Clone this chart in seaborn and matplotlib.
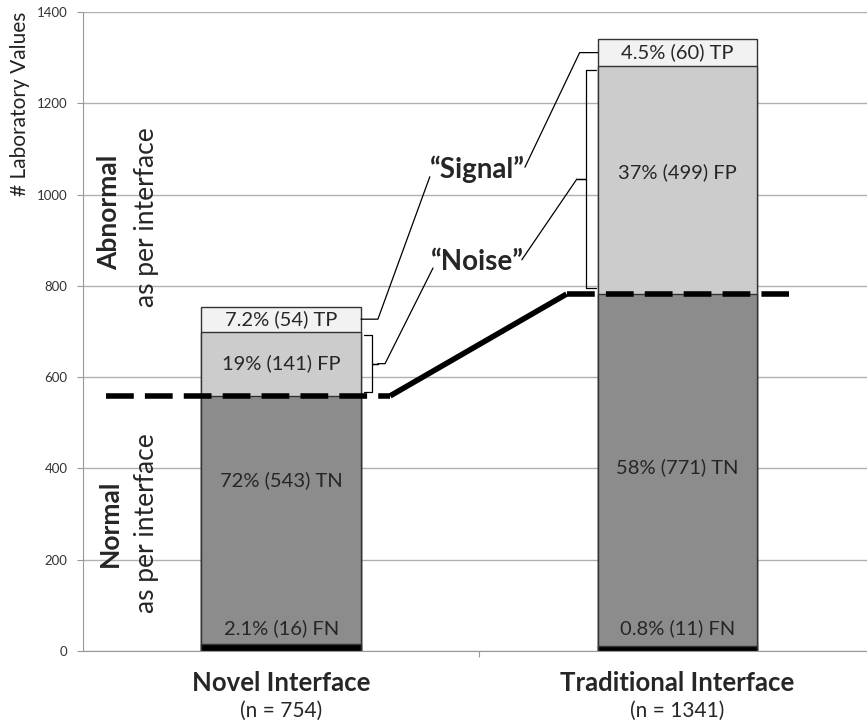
import numpy as np
import pandas as pd
import matplotlib
matplotlib.use('Agg')
import matplotlib.pyplot as plt
import seaborn as sns

# data
interfaces = ['Novel Interface', 'Traditional Interface']
n_totals = [754, 1341]
fn = [16, 11]
tn = [543, 771]
fp = [141, 499]
tp = [54, 60]
fn_lbl = ['2.1% (16) FN', '0.8% (11) FN']
tn_lbl = ['72% (543) TN', '58% (771) TN']
fp_lbl = ['19% (141) FP', '37% (499) FP']
tp_lbl = ['7.2% (54) TP', '4.5% (60) TP']

sns.set_style('white')
plt.rcParams['font.family'] = ['Lato', 'DejaVu Sans']

c_fn = np.array(fn)
c_tn = c_fn + np.array(tn)
c_fp = c_tn + np.array(fp)
c_tp = c_fp + np.array(tp)

fig = plt.figure(figsize=(8.67, 7.24), dpi=100)
ax = fig.add_axes([83 / 867, 1 - 651 / 724, 1 - 83 / 867, 639 / 724])

bw = 0.403
# stacked bars: draw cumulative totals from the top layer down
layers = [(c_tp, '#f2f2f2'), (c_fp, '#cccccc'), (c_tn, '#8c8c8c'), (c_fn, '#000000')]
for vals, col in layers:
    df = pd.DataFrame({'iface': interfaces, 'val': vals})
    sns.barplot(data=df, x='iface', y='val', color=col, width=bw,
                edgecolor='#333333', linewidth=1, saturation=1, ax=ax, zorder=2)

ax.set_ylim(0, 1400)
ax.set_xlim(-0.5, 1.478)
ax.set_yticks(range(0, 1401, 200))
ax.tick_params(axis='y', labelsize=9.5, labelcolor='#333333', length=4,
               color='#999999', left=True, direction='out', pad=7)
ax.set_xticks([0.5])
ax.set_xticklabels([''])
ax.tick_params(axis='x', length=4, color='#999999', bottom=True)
ax.grid(axis='y', color='#b0b0b0', linewidth=1, zorder=0)
ax.set_axisbelow(True)
for s in ['top', 'right']:
    ax.spines[s].set_visible(False)
ax.spines['left'].set_color('#999999')
ax.spines['bottom'].set_color('#999999')
ax.set_xlabel('')
ax.set_ylabel('')

fig.text(20 / 867, 1 - 12 / 724, '# Laboratory Values', rotation=90,
         ha='center', va='top', fontsize=15, color='#222222')

# segment labels
fs = 14.5
for i in range(2):
    ax.text(i, (c_fp[i] + c_tp[i]) / 2, tp_lbl[i], ha='center', va='center', fontsize=fs, zorder=5)
    ax.text(i, [630, 1050][i], fp_lbl[i], ha='center', va='center', fontsize=fs, zorder=5)
    ax.text(i, [375, 403][i], tn_lbl[i], ha='center', va='center', fontsize=fs, zorder=5)
    ax.text(i, 50, fn_lbl[i], ha='center', va='center', fontsize=fs, zorder=5)
    ax.text(i, -0.050, interfaces[i], transform=ax.get_xaxis_transform(), ha='center',
            va='center', fontsize=18.5, fontweight='bold')
    ax.text(i, -0.094, '(n = %d)' % n_totals[i], transform=ax.get_xaxis_transform(),
            ha='center', va='center', fontsize=15)

# threshold line
lw = 4
ax.plot([-0.443, 0.275], [c_tn[0], c_tn[0]], color='black', lw=lw, dashes=(5, 2), zorder=4)
ax.plot([0.275, 0.72], [c_tn[0], c_tn[1]], color='black', lw=lw, solid_capstyle='butt', zorder=4)
ax.plot([0.72, 1.28], [c_tn[1], c_tn[1]], color='black', lw=lw, dashes=(5, 2), zorder=4)

# side labels
ax.text(-0.433, 960, 'Abnormal', rotation=90, ha='center', va='center', fontsize=19, fontweight='bold')
ax.text(-0.340, 950, 'as per interface', rotation=90, ha='center', va='center', fontsize=19)
ax.text(-0.433, 280, 'Normal', rotation=90, ha='center', va='center', fontsize=19, fontweight='bold')
ax.text(-0.340, 280, 'as per interface', rotation=90, ha='center', va='center', fontsize=19)

ax.text(0.496, 1055, '\u201cSignal\u201d', ha='center', va='center', fontsize=20, fontweight='bold')
ax.text(0.494, 852, '\u201cNoise\u201d', ha='center', va='center', fontsize=20, fontweight='bold')

# leader lines and brackets
kw = dict(color='black', lw=0.9, zorder=4)
br = bw / 2
# novel TP -> Signal
ax.plot([br, 0.244, 0.375], [(c_fp[0] + c_tp[0]) / 2] * 2 + [1039], **kw)
# novel FP bracket -> Noise
yt, yb = c_fp[0] - 8, c_tn[0] + 8
ym = (yt + yb) / 2
ax.plot([br + 0.008, 0.229, 0.229, 0.244, 0.229, 0.229, br + 0.008],
        [yt, yt, ym, ym, ym, yb, yb], **kw)
ax.plot([0.244, 0.262, 0.383], [ym, ym, 839], **kw)
# traditional TP -> Signal
ax.plot([1 - br, 0.753, 0.615], [(c_fp[1] + c_tp[1]) / 2] * 2 + [1060], **kw)
# traditional FP bracket -> Noise
yt, yb = c_fp[1] - 8, c_tn[1] + 13
ym = (yt + yb) / 2
ax.plot([1 - br - 0.005, 0.768, 0.768, 0.746, 0.768, 0.768, 1 - br - 0.005],
        [yt, yt, ym, ym, ym, yb, yb], **kw)
ax.plot([0.746, 0.607], [ym, 857], **kw)

fig.savefig('out.png', dpi=100)
